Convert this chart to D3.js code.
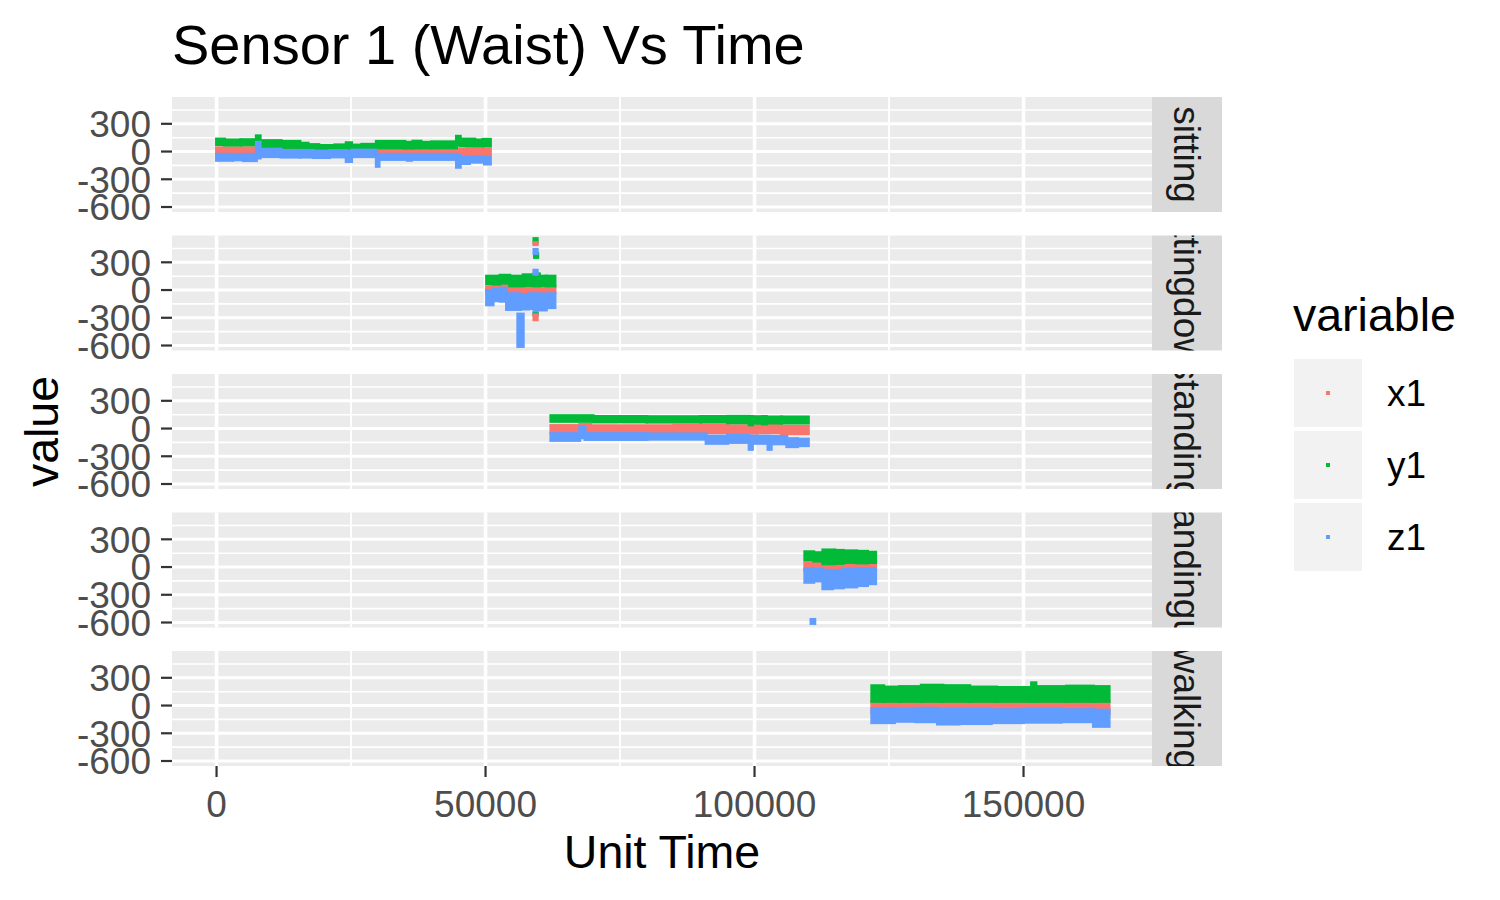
<!DOCTYPE html>
<html>
<head>
<meta charset="utf-8">
<script src="https://cdn.jsdelivr.net/npm/d3@7"></script>
<style>
  body { margin: 0; background: #fff; }
  svg { font-family: "Liberation Sans", Arial, sans-serif; }
</style>
</head>
<body>
<svg id="chart" width="1500" height="900"></svg>
<script>
// facets, variables, colours
const panels = ["sitting", "sittingdown", "standing", "standingup", "walking"];
const variables = ["x1", "y1", "z1"];
const colors = ["#F8766D", "#00BA38", "#619CFF"];

const yTicks = [-600, -300, 0, 300];
const yMinor = [-450, -150, 150, 450];
const xTicks = [0, 50000, 100000, 150000];
const xMinor = [25000, 75000, 125000];

// each row: [time, low, high] held until the next row (or the panel end)
const sittingX1 = [[0, -20, 40], [7400, 5, 65], [9900, -20, 30], [15500, -30, 20], [29700, -20, 32], [44600, -45, 30],
  [46500, -35, 45], [47500, -40, 30]];
const sittingY1 = [[0, 75, 135], [1500, 70, 125], [4500, 72, 128], [7400, 90, 170], [8100, 55, 118], [12000, 45, 110],
  [15500, 15, 90], [17000, 5, 75], [19000, 10, 65], [22000, 12, 72], [24100, 15, 95], [25100, 12, 70], [27000, 8, 78],
  [29700, 40, 110], [35000, 38, 100], [36500, 40, 112], [38000, 40, 100], [40000, 40, 105], [44600, 70, 165],
  [45300, 65, 135], [48000, 60, 125], [49500, 62, 132]];
const sittingZ1 = [[0, -95, -30], [3000, -90, -35], [5000, -98, -30], [7400, -70, 100], [8100, -55, 25], [12000, -60, 10],
  [15500, -60, 12], [18000, -65, 5], [21000, -58, 10], [24100, -108, 5], [25100, -55, 15], [29700, -160, -30],
  [30200, -85, -30], [35500, -95, -32], [36200, -85, -30], [44600, -170, -40], [45300, -130, -65], [47000, -115, -60],
  [49800, -135, -65]];

const sittingdownX1 = [[50200, -25, 30], [51400, -10, 65], [54500, -30, 48], [58500, -35, 45], [60500, -30, 40]];
const sittingdownY1 = [[50200, 65, 150], [52700, 75, 160], [54500, 45, 150], [57000, 50, 165], [59000, 45, 175],
  [60000, 50, 150], [61300, 45, 150]];
const sittingdownZ1 = [[50200, -160, -5], [51400, -115, 10], [52700, -120, 20], [53900, -210, -40], [56500, -205, -50],
  [58000, -200, -40], [60000, -215, -45], [61300, -190, -40]];

const standingX1 = [[62150, -40, 32], [67500, -35, 45], [69500, -40, 30], [85000, -45, 35], [95000, -50, 30],
  [100500, -45, 45], [105000, -55, 25]];
const standingY1 = [[62150, 78, 139], [70000, 72, 130], [80000, 70, 128], [90000, 70, 130], [95000, 62, 132],
  [99000, 40, 130], [99600, 58, 128], [101500, 50, 130], [102200, 60, 125], [105000, 60, 125]];
const standingZ1 = [[62150, -128, -55], [67500, -100, 20], [68500, -118, -55], [80000, -115, -58], [91000, -160, -82],
  [95000, -150, -75], [99000, -225, -85], [99600, -160, -82], [102500, -225, -85], [103100, -165, -85],
  [106000, -196, -110], [108000, -185, -115]];

const standingupX1 = [[109350, -40, 40], [112700, -45, 45], [116500, -40, 40], [119500, -45, 45]];
const standingupY1 = [[109350, 75, 165], [111000, 65, 155], [112700, 35, 185], [114900, 40, 180], [116500, 50, 175],
  [119000, 45, 170], [121000, 50, 160]];
const standingupZ1 = [[109350, -165, -20], [111000, -150, -25], [112700, -235, -35], [114500, -225, -40],
  [116500, -215, -25], [119000, -200, -20], [121000, -180, -25]];

const walkingX1 = [[121800, -78, 46], [135000, -75, 45], [150000, -80, 40], [163000, -85, 45]];
const walkingY1 = [[121800, 46, 214], [124000, 46, 200], [127000, 46, 205], [131000, 46, 220], [135000, 46, 215],
  [140000, 46, 200], [145000, 46, 195], [151500, 46, 246], [152300, 46, 205], [158000, 46, 210], [163000, 46, 205]];
const walkingZ1 = [[121800, -185, -36], [126000, -170, -40], [130000, -175, -30], [134000, -200, -40],
  [138000, -195, -40], [144000, -185, -45], [150000, -180, -40], [157000, -175, -45], [163000, -225, -50]];

const panelEnd = [50900, 62900, 110000, 122500, 165900];

// isolated readings: [panel, variable, t0, t1, low, high]
const outliers = [
  [1, 2, 56000, 57000, -610, -260],
  [1, 1, 59000, 59600, 513, 556],
  [1, 0, 59000, 59600, 492, 513],
  [1, 1, 59100, 59700, 353, 396],
  [1, 2, 59000, 59600, 396, 439],
  [1, 2, 59000, 59600, 171, 214],
  [1, 2, 59000, 59600, -257, -225],
  [1, 1, 59000, 59600, -268, -257],
  [1, 0, 59000, 59600, -321, -268],
  [3, 2, 110500, 111200, -610, -567]
];

const series = [
  [sittingX1, sittingY1, sittingZ1],
  [sittingdownX1, sittingdownY1, sittingdownZ1],
  [standingX1, standingY1, standingZ1],
  [standingupX1, standingupY1, standingupZ1],
  [walkingX1, walkingY1, walkingZ1]
];

const svg = d3.select("#chart");
const left = 172, right = 1152, stripW = 70;
const top0 = 97, panelH = 115, step = 138.5;

const x = d3.scaleLinear().domain([-8280, 173880]).range([left, right]);
const y = d3.scaleLinear().domain([-654, 590]).range([panelH, 0]);

panels.forEach((name, p) => {
  const g = svg.append("g").attr("transform", `translate(0,${top0 + p * step})`);

  g.append("rect").attr("x", left).attr("y", 0).attr("width", right - left).attr("height", panelH)
    .attr("fill", "#EBEBEB");

  g.selectAll(".hmin").data(yMinor).join("line")
    .attr("x1", left).attr("x2", right).attr("y1", d => y(d)).attr("y2", d => y(d))
    .attr("stroke", "#fff").attr("stroke-width", 1.6);
  g.selectAll(".vmin").data(xMinor).join("line").attr("class", "vmin")
    .attr("y1", 0).attr("y2", panelH).attr("x1", d => x(d)).attr("x2", d => x(d))
    .attr("stroke", "#fff").attr("stroke-width", 1.8);
  g.selectAll(".hmaj").data(yTicks).join("line").attr("class", "hmaj")
    .attr("x1", left).attr("x2", right).attr("y1", d => y(d)).attr("y2", d => y(d))
    .attr("stroke", "#fff").attr("stroke-width", 3);
  g.selectAll(".vmaj").data(xTicks).join("line").attr("class", "vmaj")
    .attr("y1", 0).attr("y2", panelH).attr("x1", d => x(d)).attr("x2", d => x(d))
    .attr("stroke", "#fff").attr("stroke-width", 3.6);

  // data bands, x1 first then y1, z1 on top
  series[p].forEach((rows, v) => {
    g.append("g").selectAll("rect").data(rows).join("rect")
      .attr("x", d => x(d[0]) - 1.5)
      .attr("width", (d, i) => x(i < rows.length - 1 ? rows[i + 1][0] : panelEnd[p]) - x(d[0]) + 3)
      .attr("y", d => y(d[2]) - 1.5)
      .attr("height", d => y(d[1]) - y(d[2]) + 3)
      .attr("fill", colors[v]);
  });
  g.append("g").selectAll("rect").data(outliers.filter(o => o[0] === p)).join("rect")
    .attr("x", d => x(d[2]) - 1.5).attr("width", d => x(d[3]) - x(d[2]) + 3)
    .attr("y", d => y(d[5]) - 1.5).attr("height", d => y(d[4]) - y(d[5]) + 3)
    .attr("fill", d => colors[d[1]]);

  // y axis
  g.selectAll(".yt").data(yTicks).join("line")
    .attr("x1", left - 11).attr("x2", left).attr("y1", d => y(d)).attr("y2", d => y(d))
    .attr("stroke", "#333").attr("stroke-width", 2.2);
  g.selectAll(".yl").data(yTicks).join("text")
    .attr("x", left - 21).attr("y", d => y(d)).attr("dy", "0.36em")
    .attr("text-anchor", "end").attr("font-size", 37).attr("fill", "#4D4D4D")
    .text(d => String(d));

  // strip
  const clipId = "strip" + p;
  g.append("clipPath").attr("id", clipId).append("rect")
    .attr("x", right).attr("y", 0).attr("width", stripW).attr("height", panelH);
  g.append("rect").attr("x", right).attr("y", 0).attr("width", stripW).attr("height", panelH)
    .attr("fill", "#D9D9D9");
  g.append("g").attr("clip-path", `url(#${clipId})`).append("text")
    .attr("transform", `translate(${right + stripW / 2},${panelH / 2}) rotate(90)`)
    .attr("text-anchor", "middle").attr("dy", "0.36em")
    .attr("font-size", 37).attr("fill", "#1A1A1A").text(name);
});

// x axis under the last panel
const bottom = top0 + 4 * step + panelH;
svg.selectAll(".xt").data(xTicks).join("line")
  .attr("x1", d => x(d)).attr("x2", d => x(d)).attr("y1", bottom).attr("y2", bottom + 11)
  .attr("stroke", "#333").attr("stroke-width", 2.2);
svg.selectAll(".xl").data(xTicks).join("text")
  .attr("x", d => x(d)).attr("y", bottom + 51)
  .attr("text-anchor", "middle").attr("font-size", 37).attr("fill", "#4D4D4D")
  .text(d => d);

svg.append("text").attr("x", (left + right) / 2).attr("y", 868)
  .attr("text-anchor", "middle").attr("font-size", 46.5).attr("fill", "#000").text("Unit Time");
svg.append("text").attr("transform", `translate(58,${(top0 + bottom) / 2}) rotate(-90)`)
  .attr("text-anchor", "middle").attr("font-size", 46.5).attr("fill", "#000").text("value");

svg.append("text").attr("x", left).attr("y", 64)
  .attr("font-size", 56).attr("fill", "#000").text("Sensor 1 (Waist) Vs Time");

// legend
const lg = svg.append("g");
lg.append("text").attr("x", 1293).attr("y", 331).attr("font-size", 46.5).attr("fill", "#000").text("variable");
variables.forEach((v, i) => {
  const ky = 359 + i * 72;
  lg.append("rect").attr("x", 1294).attr("y", ky).attr("width", 68).attr("height", 68).attr("fill", "#F2F2F2");
  lg.append("rect").attr("x", 1326).attr("y", ky + 32).attr("width", 4).attr("height", 4).attr("fill", colors[i]);
  lg.append("text").attr("x", 1387).attr("y", ky + 34).attr("dy", "0.36em")
    .attr("font-size", 37).attr("fill", "#000").text(v);
});
</script>
</body>
</html>
